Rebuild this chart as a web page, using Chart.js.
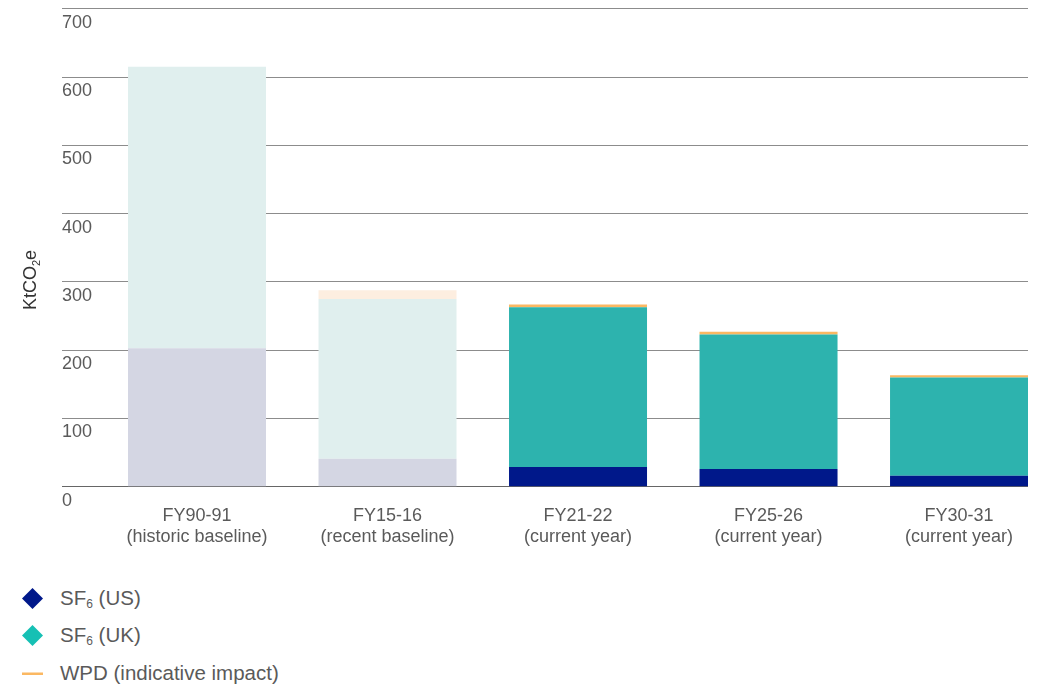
<!DOCTYPE html>
<html>
<head>
<meta charset="utf-8">
<script src="https://cdn.jsdelivr.net/npm/chart.js@4.4.0/dist/chart.umd.min.js"></script>
<style>
  html, body { margin:0; padding:0; background:#fff; width:1045px; height:687px; overflow:hidden;
    font-family:"Liberation Sans", Arial, sans-serif; }
  #wrap { position:absolute; left:0; top:-2px; width:1045px; height:572px; }
  #legend { position:absolute; left:0; top:0; }
  .item { position:absolute; left:0; height:24px; width:400px; color:#5a5a5a; font-size:20.5px; line-height:24px; }
  .item .sw { position:absolute; left:22px; top:2px; width:21px; height:21px; }
  .item .txt { position:absolute; left:60px; top:0; white-space:nowrap; }
  .item sub { font-size:12px; vertical-align:-3px; line-height:0; }
</style>
</head>
<body>
<div id="wrap"><canvas id="chart"></canvas></div>
<div id="legend"></div>
<script>
/* ===== Data ===== */
const categories = [
  ['FY90-91', '(historic baseline)'],
  ['FY15-16', '(recent baseline)'],
  ['FY21-22', '(current year)'],
  ['FY25-26', '(current year)'],
  ['FY30-31', '(current year)']
];
const baseline = [true, true, false, false, false];   // baseline bars drawn in faded colours
const sf6US = [203, 41, 29, 26, 16];
const sf6UK = [412, 234, 234, 197, 144];
const wpd   = [0, 13, 4, 4, 3.5];
const yTicks = [0, 100, 200, 300, 400, 500, 600, 700];

/* ===== Styles ===== */
const series = [
  { label:'SF₆ (US)', html:'SF<sub>6</sub> (US)', data:sf6US, color:'#00188a', faded:'#d4d6e3', legend:'#00188a', shape:'diamond' },
  { label:'SF₆ (UK)', html:'SF<sub>6</sub> (UK)', data:sf6UK, color:'#2db3ae', faded:'#e0efee', legend:'#16c0b4', shape:'diamond' },
  { label:'WPD (indicative impact)', html:'WPD (indicative impact)', data:wpd, color:'#fbb862', faded:'#fdeee0', legend:'#fbb862', shape:'line' }
];
const FONT = '"Liberation Sans", Arial, sans-serif';
const TXT = '#5a5a5a';

/* ===== Y title (centred on the whole plot incl. x labels) ===== */
const yTitle = {
  id:'yTitle',
  afterDraw(chart){
    const c = chart.ctx;
    c.save();
    c.translate(31, 282);
    c.rotate(-Math.PI/2);
    c.fillStyle = '#333';
    c.textBaseline = 'middle';
    c.font = '18px ' + FONT;
    const a = 'KtCO', b = 'e';
    const wa = c.measureText(a).width, wb = c.measureText(b).width;
    c.font = '11px ' + FONT;
    const ws = c.measureText('2').width;
    let x = -(wa + ws + wb)/2;
    c.font = '18px ' + FONT; c.fillText(a, x, 0); x += wa;
    c.font = '11px ' + FONT; c.fillText('2', x, 6); x += ws;
    c.font = '18px ' + FONT; c.fillText(b, x, 0);
    c.restore();
  }
};

/* ===== Chart ===== */
new Chart(document.getElementById('chart'), {
  type:'bar',
  data:{
    datasets: series.map(s => ({
      label: s.label,
      data: s.data.map((v, i) => ({ x:i, y:v })),
      backgroundColor: ctx => baseline[ctx.dataIndex] ? s.faded : s.color,
      borderWidth: 0,
      categoryPercentage: 1,
      barPercentage: 0.7244
    }))
  },
  options:{
    responsive:true, maintainAspectRatio:false, animation:false,
    layout:{ padding:{ left:62, right:17, top:5, bottom:12 } },
    plugins:{ legend:{ display:false }, tooltip:{ enabled:false } },
    scales:{
      x:{
        type:'linear', min:-0.7087, max:4.362, stacked:true, offset:false, bounds:'data',
        grid:{ display:false }, border:{ display:false },
        afterBuildTicks: s => { s.ticks = categories.map((_, i) => ({ value:i })); },
        ticks:{ callback: v => categories[v], color:TXT, padding:10, maxRotation:0, autoSkip:false,
          font:{ family:FONT, size:18, lineHeight:1.2 } }
      },
      y:{
        min:0, max:700, stacked:true,
        afterBuildTicks: s => { s.ticks = yTicks.map(v => ({ value:v })); },
        grid:{ color: ctx => ctx.tick && ctx.tick.value === 0 ? '#666' : '#8c8c8c', lineWidth:1, drawTicks:false },
        border:{ display:false },
        ticks:{ mirror:true, padding:0, labelOffset:14, color:TXT, font:{ family:FONT, size:18 } }
      }
    }
  },
  plugins:[yTitle]
});

/* ===== HTML legend ===== */
const legend = document.getElementById('legend');
const rowY = [586, 623, 661];
series.forEach((s, i) => {
  const row = document.createElement('div');
  row.className = 'item';
  row.style.top = rowY[i] + 'px';
  const sw = s.shape === 'diamond'
    ? `<svg class="sw" viewBox="0 0 21 21"><polygon points="10.5,0 21,10.5 10.5,21 0,10.5" fill="${s.legend}"/></svg>`
    : `<svg class="sw" viewBox="0 0 21 21"><rect x="0" y="9.5" width="21" height="2.5" fill="${s.legend}"/></svg>`;
  row.innerHTML = sw + `<span class="txt">${s.html}</span>`;
  legend.appendChild(row);
});
</script>
</body>
</html>
